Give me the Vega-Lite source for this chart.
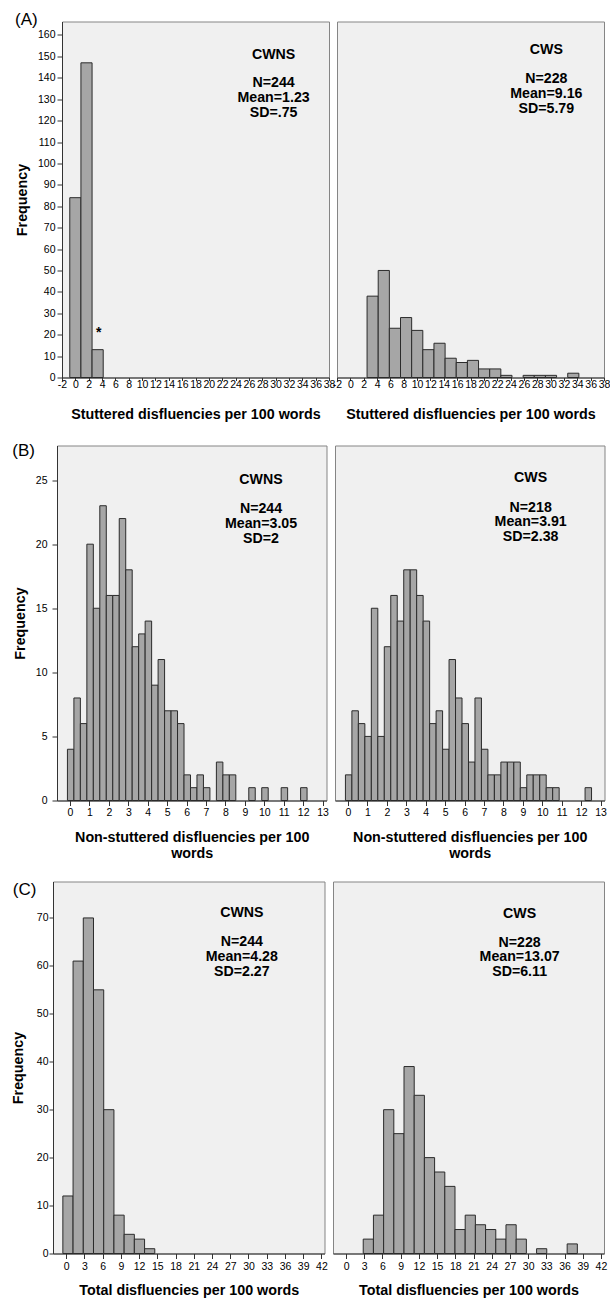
{
  "$schema": "https://vega.github.io/schema/vega-lite/v6.json",
  "padding": {"left": 10, "top": 10.5, "right": 0, "bottom": 0},
  "background": "white",
  "config": {
    "font": "Liberation Sans",
    "view": {"fill": "#f0f0f0", "stroke": "#858585", "strokeWidth": 1},
    "axis": {
      "grid": false, "domainColor": "#333333", "tickColor": "#333333", "domainWidth": 1, "tickWidth": 1,
      "labelColor": "#000000", "labelFont": "Liberation Sans", "labelFontSize": 10.5, "labelOverlap": false, "labelFlush": false, "labelBound": false,
      "labelExpr": "'' + datum.value", "tickCount": 60,
      "titleColor": "#000000", "titleFont": "Liberation Sans", "titleFontWeight": "bold", "titleFontSize": 14.3
    },
    "text": {"font": "Liberation Sans", "fontWeight": "bold", "fontSize": 14.2, "lineHeight": 14.8, "align": "center", "baseline": "alphabetic", "color": "#000000"},
    "title": {"font": "Liberation Sans", "color": "#000000", "fontWeight": "normal", "fontSize": 17, "anchor": "start"}
  },
  "datasets": {
    "hist": [
      {"panel": "A", "group": "CWNS", "bin_start": -0.835, "bin_end": 0.835, "count": 84},
      {"panel": "A", "group": "CWNS", "bin_start": 0.835, "bin_end": 2.505, "count": 147},
      {"panel": "A", "group": "CWNS", "bin_start": 2.505, "bin_end": 4.175, "count": 13},
      {"panel": "A", "group": "CWS", "bin_start": 2.505, "bin_end": 4.175, "count": 38},
      {"panel": "A", "group": "CWS", "bin_start": 4.175, "bin_end": 5.845, "count": 50},
      {"panel": "A", "group": "CWS", "bin_start": 5.845, "bin_end": 7.515, "count": 23},
      {"panel": "A", "group": "CWS", "bin_start": 7.515, "bin_end": 9.185, "count": 28},
      {"panel": "A", "group": "CWS", "bin_start": 9.185, "bin_end": 10.855, "count": 22},
      {"panel": "A", "group": "CWS", "bin_start": 10.855, "bin_end": 12.525, "count": 13},
      {"panel": "A", "group": "CWS", "bin_start": 12.525, "bin_end": 14.195, "count": 16},
      {"panel": "A", "group": "CWS", "bin_start": 14.195, "bin_end": 15.865, "count": 9},
      {"panel": "A", "group": "CWS", "bin_start": 15.865, "bin_end": 17.535, "count": 7},
      {"panel": "A", "group": "CWS", "bin_start": 17.535, "bin_end": 19.205, "count": 8},
      {"panel": "A", "group": "CWS", "bin_start": 19.205, "bin_end": 20.875, "count": 4},
      {"panel": "A", "group": "CWS", "bin_start": 20.875, "bin_end": 22.545, "count": 4},
      {"panel": "A", "group": "CWS", "bin_start": 22.545, "bin_end": 24.215, "count": 1},
      {"panel": "A", "group": "CWS", "bin_start": 25.885, "bin_end": 27.555, "count": 1},
      {"panel": "A", "group": "CWS", "bin_start": 27.555, "bin_end": 29.225, "count": 1},
      {"panel": "A", "group": "CWS", "bin_start": 29.225, "bin_end": 30.895, "count": 1},
      {"panel": "A", "group": "CWS", "bin_start": 32.565, "bin_end": 34.235, "count": 2},

      {"panel": "B", "group": "CWNS", "bin_start": -0.133, "bin_end": 0.2, "count": 4},
      {"panel": "B", "group": "CWNS", "bin_start": 0.2, "bin_end": 0.533, "count": 8},
      {"panel": "B", "group": "CWNS", "bin_start": 0.533, "bin_end": 0.867, "count": 6},
      {"panel": "B", "group": "CWNS", "bin_start": 0.867, "bin_end": 1.2, "count": 20},
      {"panel": "B", "group": "CWNS", "bin_start": 1.2, "bin_end": 1.533, "count": 15},
      {"panel": "B", "group": "CWNS", "bin_start": 1.533, "bin_end": 1.867, "count": 23},
      {"panel": "B", "group": "CWNS", "bin_start": 1.867, "bin_end": 2.2, "count": 16},
      {"panel": "B", "group": "CWNS", "bin_start": 2.2, "bin_end": 2.533, "count": 16},
      {"panel": "B", "group": "CWNS", "bin_start": 2.533, "bin_end": 2.867, "count": 22},
      {"panel": "B", "group": "CWNS", "bin_start": 2.867, "bin_end": 3.2, "count": 18},
      {"panel": "B", "group": "CWNS", "bin_start": 3.2, "bin_end": 3.533, "count": 12},
      {"panel": "B", "group": "CWNS", "bin_start": 3.533, "bin_end": 3.867, "count": 13},
      {"panel": "B", "group": "CWNS", "bin_start": 3.867, "bin_end": 4.2, "count": 14},
      {"panel": "B", "group": "CWNS", "bin_start": 4.2, "bin_end": 4.533, "count": 9},
      {"panel": "B", "group": "CWNS", "bin_start": 4.533, "bin_end": 4.867, "count": 11},
      {"panel": "B", "group": "CWNS", "bin_start": 4.867, "bin_end": 5.2, "count": 7},
      {"panel": "B", "group": "CWNS", "bin_start": 5.2, "bin_end": 5.533, "count": 7},
      {"panel": "B", "group": "CWNS", "bin_start": 5.533, "bin_end": 5.867, "count": 6},
      {"panel": "B", "group": "CWNS", "bin_start": 5.867, "bin_end": 6.2, "count": 2},
      {"panel": "B", "group": "CWNS", "bin_start": 6.2, "bin_end": 6.533, "count": 1},
      {"panel": "B", "group": "CWNS", "bin_start": 6.533, "bin_end": 6.867, "count": 2},
      {"panel": "B", "group": "CWNS", "bin_start": 6.867, "bin_end": 7.2, "count": 1},
      {"panel": "B", "group": "CWNS", "bin_start": 7.533, "bin_end": 7.867, "count": 3},
      {"panel": "B", "group": "CWNS", "bin_start": 7.867, "bin_end": 8.2, "count": 2},
      {"panel": "B", "group": "CWNS", "bin_start": 8.2, "bin_end": 8.533, "count": 2},
      {"panel": "B", "group": "CWNS", "bin_start": 9.2, "bin_end": 9.533, "count": 1},
      {"panel": "B", "group": "CWNS", "bin_start": 9.867, "bin_end": 10.2, "count": 1},
      {"panel": "B", "group": "CWNS", "bin_start": 10.867, "bin_end": 11.2, "count": 1},
      {"panel": "B", "group": "CWNS", "bin_start": 11.867, "bin_end": 12.2, "count": 1},

      {"panel": "B", "group": "CWS", "bin_start": -0.133, "bin_end": 0.2, "count": 2},
      {"panel": "B", "group": "CWS", "bin_start": 0.2, "bin_end": 0.533, "count": 7},
      {"panel": "B", "group": "CWS", "bin_start": 0.533, "bin_end": 0.867, "count": 6},
      {"panel": "B", "group": "CWS", "bin_start": 0.867, "bin_end": 1.2, "count": 5},
      {"panel": "B", "group": "CWS", "bin_start": 1.2, "bin_end": 1.533, "count": 15},
      {"panel": "B", "group": "CWS", "bin_start": 1.533, "bin_end": 1.867, "count": 5},
      {"panel": "B", "group": "CWS", "bin_start": 1.867, "bin_end": 2.2, "count": 12},
      {"panel": "B", "group": "CWS", "bin_start": 2.2, "bin_end": 2.533, "count": 16},
      {"panel": "B", "group": "CWS", "bin_start": 2.533, "bin_end": 2.867, "count": 14},
      {"panel": "B", "group": "CWS", "bin_start": 2.867, "bin_end": 3.2, "count": 18},
      {"panel": "B", "group": "CWS", "bin_start": 3.2, "bin_end": 3.533, "count": 18},
      {"panel": "B", "group": "CWS", "bin_start": 3.533, "bin_end": 3.867, "count": 16},
      {"panel": "B", "group": "CWS", "bin_start": 3.867, "bin_end": 4.2, "count": 14},
      {"panel": "B", "group": "CWS", "bin_start": 4.2, "bin_end": 4.533, "count": 6},
      {"panel": "B", "group": "CWS", "bin_start": 4.533, "bin_end": 4.867, "count": 7},
      {"panel": "B", "group": "CWS", "bin_start": 4.867, "bin_end": 5.2, "count": 4},
      {"panel": "B", "group": "CWS", "bin_start": 5.2, "bin_end": 5.533, "count": 11},
      {"panel": "B", "group": "CWS", "bin_start": 5.533, "bin_end": 5.867, "count": 8},
      {"panel": "B", "group": "CWS", "bin_start": 5.867, "bin_end": 6.2, "count": 6},
      {"panel": "B", "group": "CWS", "bin_start": 6.2, "bin_end": 6.533, "count": 3},
      {"panel": "B", "group": "CWS", "bin_start": 6.533, "bin_end": 6.867, "count": 8},
      {"panel": "B", "group": "CWS", "bin_start": 6.867, "bin_end": 7.2, "count": 4},
      {"panel": "B", "group": "CWS", "bin_start": 7.2, "bin_end": 7.533, "count": 2},
      {"panel": "B", "group": "CWS", "bin_start": 7.533, "bin_end": 7.867, "count": 2},
      {"panel": "B", "group": "CWS", "bin_start": 7.867, "bin_end": 8.2, "count": 3},
      {"panel": "B", "group": "CWS", "bin_start": 8.2, "bin_end": 8.533, "count": 3},
      {"panel": "B", "group": "CWS", "bin_start": 8.533, "bin_end": 8.867, "count": 3},
      {"panel": "B", "group": "CWS", "bin_start": 8.867, "bin_end": 9.2, "count": 1},
      {"panel": "B", "group": "CWS", "bin_start": 9.2, "bin_end": 9.533, "count": 2},
      {"panel": "B", "group": "CWS", "bin_start": 9.533, "bin_end": 9.867, "count": 2},
      {"panel": "B", "group": "CWS", "bin_start": 9.867, "bin_end": 10.2, "count": 2},
      {"panel": "B", "group": "CWS", "bin_start": 10.2, "bin_end": 10.533, "count": 1},
      {"panel": "B", "group": "CWS", "bin_start": 10.533, "bin_end": 10.867, "count": 1},
      {"panel": "B", "group": "CWS", "bin_start": 12.2, "bin_end": 12.533, "count": 1},

      {"panel": "C", "group": "CWNS", "bin_start": -0.53, "bin_end": 1.15, "count": 12},
      {"panel": "C", "group": "CWNS", "bin_start": 1.15, "bin_end": 2.83, "count": 61},
      {"panel": "C", "group": "CWNS", "bin_start": 2.83, "bin_end": 4.51, "count": 70},
      {"panel": "C", "group": "CWNS", "bin_start": 4.51, "bin_end": 6.19, "count": 55},
      {"panel": "C", "group": "CWNS", "bin_start": 6.19, "bin_end": 7.87, "count": 30},
      {"panel": "C", "group": "CWNS", "bin_start": 7.87, "bin_end": 9.55, "count": 8},
      {"panel": "C", "group": "CWNS", "bin_start": 9.55, "bin_end": 11.23, "count": 4},
      {"panel": "C", "group": "CWNS", "bin_start": 11.23, "bin_end": 12.91, "count": 3},
      {"panel": "C", "group": "CWNS", "bin_start": 12.91, "bin_end": 14.59, "count": 1},

      {"panel": "C", "group": "CWS", "bin_start": 2.83, "bin_end": 4.51, "count": 3},
      {"panel": "C", "group": "CWS", "bin_start": 4.51, "bin_end": 6.19, "count": 8},
      {"panel": "C", "group": "CWS", "bin_start": 6.19, "bin_end": 7.87, "count": 30},
      {"panel": "C", "group": "CWS", "bin_start": 7.87, "bin_end": 9.55, "count": 25},
      {"panel": "C", "group": "CWS", "bin_start": 9.55, "bin_end": 11.23, "count": 39},
      {"panel": "C", "group": "CWS", "bin_start": 11.23, "bin_end": 12.91, "count": 33},
      {"panel": "C", "group": "CWS", "bin_start": 12.91, "bin_end": 14.59, "count": 20},
      {"panel": "C", "group": "CWS", "bin_start": 14.59, "bin_end": 16.27, "count": 17},
      {"panel": "C", "group": "CWS", "bin_start": 16.27, "bin_end": 17.95, "count": 14},
      {"panel": "C", "group": "CWS", "bin_start": 17.95, "bin_end": 19.63, "count": 5},
      {"panel": "C", "group": "CWS", "bin_start": 19.63, "bin_end": 21.31, "count": 8},
      {"panel": "C", "group": "CWS", "bin_start": 21.31, "bin_end": 22.99, "count": 6},
      {"panel": "C", "group": "CWS", "bin_start": 22.99, "bin_end": 24.67, "count": 5},
      {"panel": "C", "group": "CWS", "bin_start": 24.67, "bin_end": 26.35, "count": 3},
      {"panel": "C", "group": "CWS", "bin_start": 26.35, "bin_end": 28.03, "count": 6},
      {"panel": "C", "group": "CWS", "bin_start": 28.03, "bin_end": 29.71, "count": 3},
      {"panel": "C", "group": "CWS", "bin_start": 31.39, "bin_end": 33.07, "count": 1},
      {"panel": "C", "group": "CWS", "bin_start": 36.43, "bin_end": 38.11, "count": 2}
    ]
  },
  "data": {"name": "hist"},
  "spacing": 19,
  "vconcat": [
    {
      "title": {"text": "(A)", "offset": -8, "dx": 0},
      "bounds": "flush",
      "spacing": 8,
      "hconcat": [
        {"width": 10, "height": 1, "data": {"values": []}, "mark": "point", "view": {"stroke": null, "fill": null}},
        {
          "width": 267, "height": 356,
          "layer": [
            {
              "transform": [{"filter": "datum.panel == 'A' && datum.group == 'CWNS'"}],
              "mark": {"type": "rect", "fill": "#a6a6a6", "stroke": "#2b2b2b", "strokeWidth": 1},
              "encoding": {
                "x": {"field": "bin_start", "type": "quantitative", "scale": {"domain": [-2, 38], "nice": false, "zero": false},
                      "axis": {"title": "Stuttered disfluencies per 100 words", "values": [-2,0,2,4,6,8,10,12,14,16,18,20,22,24,26,28,30,32,34,36,38], "tickCount": 60, "labelExpr": "'' + datum.value", "labelOverlap": false, "tickSize": 3, "labelPadding": -1, "titlePadding": 17}},
                "x2": {"field": "bin_end"},
                "y": {"field": "count", "type": "quantitative", "scale": {"domain": [0, 166.3], "nice": false},
                      "axis": {"title": "Frequency", "values": [0,10,20,30,40,50,60,70,80,90,100,110,120,130,140,150,160], "tickCount": 60, "labelExpr": "'' + datum.value", "labelOverlap": false, "tickSize": 5, "labelPadding": 2, "titlePadding": 8}},
                "y2": {"datum": 0}
              }
            },
            {
              "data": {"values": [{}]},
              "mark": {"type": "text"},
              "encoding": {"x": {"datum": 29.7, "type": "quantitative"}, "y": {"datum": 148.9, "type": "quantitative"}, "text": {"value": "CWNS"}}
            },
            {
              "data": {"values": [{}]},
              "mark": {"type": "text"},
              "encoding": {"x": {"datum": 29.7, "type": "quantitative"}, "y": {"datum": 135.6, "type": "quantitative"}, "text": {"value": ["N=244", "Mean=1.23", "SD=.75"]}}
            },
            {
              "data": {"values": [{}]},
              "mark": {"type": "text", "fontSize": 14},
              "encoding": {"x": {"datum": 3.5, "type": "quantitative"}, "y": {"datum": 18.8, "type": "quantitative"}, "text": {"value": "*"}}
            }
          ]
        },
        {
          "width": 267, "height": 356,
          "layer": [
            {
              "transform": [{"filter": "datum.panel == 'A' && datum.group == 'CWS'"}],
              "mark": {"type": "rect", "fill": "#a6a6a6", "stroke": "#2b2b2b", "strokeWidth": 1},
              "encoding": {
                "x": {"field": "bin_start", "type": "quantitative", "scale": {"domain": [-2, 38], "nice": false, "zero": false},
                      "axis": {"title": "Stuttered disfluencies per 100 words", "values": [-2,0,2,4,6,8,10,12,14,16,18,20,22,24,26,28,30,32,34,36,38], "tickCount": 60, "labelExpr": "'' + datum.value", "labelOverlap": false, "tickSize": 3, "labelPadding": -1, "titlePadding": 17}},
                "x2": {"field": "bin_end"},
                "y": {"field": "count", "type": "quantitative", "scale": {"domain": [0, 166.3], "nice": false}, "axis": null},
                "y2": {"datum": 0}
              }
            },
            {
              "data": {"values": [{}]},
              "mark": {"type": "text"},
              "encoding": {"x": {"datum": 29.36, "type": "quantitative"}, "y": {"datum": 150.9, "type": "quantitative"}, "text": {"value": "CWS"}}
            },
            {
              "data": {"values": [{}]},
              "mark": {"type": "text"},
              "encoding": {"x": {"datum": 29.36, "type": "quantitative"}, "y": {"datum": 137.6, "type": "quantitative"}, "text": {"value": ["N=228", "Mean=9.16", "SD=5.79"]}}
            }
          ]
        }
      ]
    },
    {
      "title": {"text": "(B)", "offset": -15, "dx": -1},
      "bounds": "flush",
      "spacing": 8,
      "hconcat": [
        {"width": 5, "height": 1, "data": {"values": []}, "mark": "point", "view": {"stroke": null, "fill": null}},
        {
          "width": 269.5, "height": 355,
          "layer": [
            {
              "transform": [{"filter": "datum.panel == 'B' && datum.group == 'CWNS'"}],
              "mark": {"type": "rect", "fill": "#a6a6a6", "stroke": "#2b2b2b", "strokeWidth": 1},
              "encoding": {
                "x": {"field": "bin_start", "type": "quantitative", "scale": {"domain": [-0.67, 13.2], "nice": false, "zero": false},
                      "axis": {"title": ["Non-stuttered disfluencies per 100", "words"], "titleLineHeight": 15.5, "values": [0,1,2,3,4,5,6,7,8,9,10,11,12,13], "tickCount": 60, "labelExpr": "'' + datum.value", "labelOverlap": false, "tickSize": 5, "labelPadding": 2, "titlePadding": 12.5}},
                "x2": {"field": "bin_end"},
                "y": {"field": "count", "type": "quantitative", "scale": {"domain": [0, 27.7], "nice": false},
                      "axis": {"title": "Frequency", "values": [0,5,10,15,20,25], "tickCount": 60, "labelExpr": "'' + datum.value", "labelOverlap": false, "tickSize": 5, "labelPadding": 5, "titlePadding": 7.5}},
                "y2": {"datum": 0}
              }
            },
            {
              "data": {"values": [{}]},
              "mark": {"type": "text"},
              "encoding": {"x": {"datum": 9.83, "type": "quantitative"}, "y": {"datum": 24.7, "type": "quantitative"}, "text": {"value": "CWNS"}}
            },
            {
              "data": {"values": [{}]},
              "mark": {"type": "text"},
              "encoding": {"x": {"datum": 9.83, "type": "quantitative"}, "y": {"datum": 22.43, "type": "quantitative"}, "text": {"value": ["N=244", "Mean=3.05", "SD=2"]}}
            }
          ]
        },
        {
          "width": 269.5, "height": 355,
          "layer": [
            {
              "transform": [{"filter": "datum.panel == 'B' && datum.group == 'CWS'"}],
              "mark": {"type": "rect", "fill": "#a6a6a6", "stroke": "#2b2b2b", "strokeWidth": 1},
              "encoding": {
                "x": {"field": "bin_start", "type": "quantitative", "scale": {"domain": [-0.67, 13.2], "nice": false, "zero": false},
                      "axis": {"title": ["Non-stuttered disfluencies per 100", "words"], "titleLineHeight": 15.5, "values": [0,1,2,3,4,5,6,7,8,9,10,11,12,13], "tickCount": 60, "labelExpr": "'' + datum.value", "labelOverlap": false, "tickSize": 5, "labelPadding": 2, "titlePadding": 12.5}},
                "x2": {"field": "bin_end"},
                "y": {"field": "count", "type": "quantitative", "scale": {"domain": [0, 27.7], "nice": false}, "axis": null},
                "y2": {"datum": 0}
              }
            },
            {
              "data": {"values": [{}]},
              "mark": {"type": "text"},
              "encoding": {"x": {"datum": 9.4, "type": "quantitative"}, "y": {"datum": 24.87, "type": "quantitative"}, "text": {"value": "CWS"}}
            },
            {
              "data": {"values": [{}]},
              "mark": {"type": "text"},
              "encoding": {"x": {"datum": 9.4, "type": "quantitative"}, "y": {"datum": 22.54, "type": "quantitative"}, "text": {"value": ["N=218", "Mean=3.91", "SD=2.38"]}}
            }
          ]
        }
      ]
    },
    {
      "title": {"text": "(C)", "offset": -18, "dx": 2},
      "bounds": "flush",
      "spacing": 8,
      "hconcat": [
        {"width": 1, "height": 1, "data": {"values": []}, "mark": "point", "view": {"stroke": null, "fill": null}},
        {
          "width": 271.5, "height": 372,
          "layer": [
            {
              "transform": [{"filter": "datum.panel == 'C' && datum.group == 'CWNS'"}],
              "mark": {"type": "rect", "fill": "#a6a6a6", "stroke": "#2b2b2b", "strokeWidth": 1},
              "encoding": {
                "x": {"field": "bin_start", "type": "quantitative", "scale": {"domain": [-2.15, 42.5], "nice": false, "zero": false},
                      "axis": {"title": "Total disfluencies per 100 words", "values": [0,3,6,9,12,15,18,21,24,27,30,33,36,39,42], "tickCount": 60, "labelExpr": "'' + datum.value", "labelOverlap": false, "tickSize": 5, "labelPadding": 2.5, "titlePadding": 11.5}},
                "x2": {"field": "bin_end"},
                "y": {"field": "count", "type": "quantitative", "scale": {"domain": [0, 77.6], "nice": false},
                      "axis": {"title": "Frequency", "values": [0,10,20,30,40,50,60,70], "tickCount": 60, "labelExpr": "'' + datum.value", "labelOverlap": false, "tickSize": 4, "labelPadding": 1, "titlePadding": 11}},
                "y2": {"datum": 0}
              }
            },
            {
              "data": {"values": [{}]},
              "mark": {"type": "text"},
              "encoding": {"x": {"datum": 28.9, "type": "quantitative"}, "y": {"datum": 70.25, "type": "quantitative"}, "text": {"value": "CWNS"}}
            },
            {
              "data": {"values": [{}]},
              "mark": {"type": "text"},
              "encoding": {"x": {"datum": 28.9, "type": "quantitative"}, "y": {"datum": 64.15, "type": "quantitative"}, "text": {"value": ["N=244", "Mean=4.28", "SD=2.27"]}}
            }
          ]
        },
        {
          "width": 271, "height": 372,
          "layer": [
            {
              "transform": [{"filter": "datum.panel == 'C' && datum.group == 'CWS'"}],
              "mark": {"type": "rect", "fill": "#a6a6a6", "stroke": "#2b2b2b", "strokeWidth": 1},
              "encoding": {
                "x": {"field": "bin_start", "type": "quantitative", "scale": {"domain": [-2.15, 42.5], "nice": false, "zero": false},
                      "axis": {"title": "Total disfluencies per 100 words", "values": [0,3,6,9,12,15,18,21,24,27,30,33,36,39,42], "tickCount": 60, "labelExpr": "'' + datum.value", "labelOverlap": false, "tickSize": 5, "labelPadding": 2.5, "titlePadding": 11.5}},
                "x2": {"field": "bin_end"},
                "y": {"field": "count", "type": "quantitative", "scale": {"domain": [0, 77.6], "nice": false}, "axis": null},
                "y2": {"datum": 0}
              }
            },
            {
              "data": {"values": [{}]},
              "mark": {"type": "text"},
              "encoding": {"x": {"datum": 28.6, "type": "quantitative"}, "y": {"datum": 70.04, "type": "quantitative"}, "text": {"value": "CWS"}}
            },
            {
              "data": {"values": [{}]},
              "mark": {"type": "text"},
              "encoding": {"x": {"datum": 28.6, "type": "quantitative"}, "y": {"datum": 64.0, "type": "quantitative"}, "text": {"value": ["N=228", "Mean=13.07", "SD=6.11"]}}
            }
          ]
        }
      ]
    }
  ]
}
